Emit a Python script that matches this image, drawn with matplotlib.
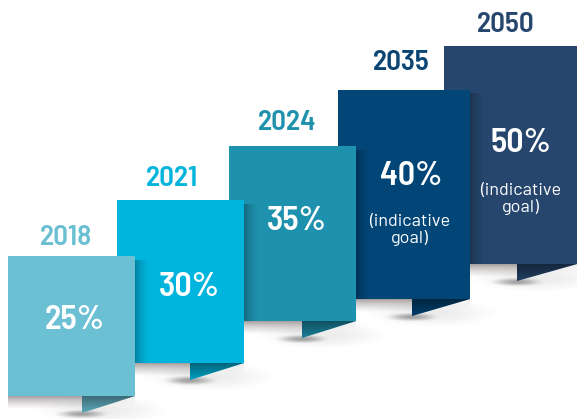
import matplotlib
matplotlib.use("Agg")
import matplotlib.pyplot as plt
from matplotlib.patches import Polygon
import numpy as np

# milestones and target shares
years = ["2018", "2021", "2024", "2035", "2050"]
shares = [25, 30, 35, 40, 50]
notes = ["", "", "", "(indicative\ngoal)", "(indicative\ngoal)"]

# look of each step
bar_colors = ["#6cc0d4", "#00b5dd", "#1e91ae", "#014677", "#26466d"]
year_colors = ["#6bbfd2", "#00b4db", "#1f91ad", "#0b4574", "#27466e"]

# step geometry, pixel units on a 577x419 canvas
bar_left = [8, 117, 229, 338, 444]
bar_right = [135, 244, 356, 470, 577]
bar_top = [256, 200, 146, 90, 46]
bar_bottom = [396, 363, 321, 299, 264]
tail_x = [82, 190, 302, 412, 517]
tail_drop = 17

year_xy = [(66, 237), (172, 178), (287, 122), (401, 63), (506, 25)]
share_xy = [(75, 320), (189, 287), (297, 221), (411, 176), (521, 143)]
note_xy = [None, None, None, (410, 230), (521, 199)]

BIG = ["Barlow Semi Condensed", "DejaVu Sans"]
SMALL = ["Barlow", "DejaVu Sans"]


def grad_rect(ax, x0, x1, y0, y1, a0, a1, axis, color=(0, 0, 0), zorder=1,
              clip=None, gamma=1.0):
    t = np.linspace(0, 1, 64) ** gamma
    a = a0 + (a1 - a0) * t
    alpha = a[None, :] if axis == "x" else a[:, None]
    img = np.zeros(alpha.shape + (4,))
    img[..., :3] = color
    img[..., 3] = alpha
    im = ax.imshow(img, extent=(x0, x1, y1, y0), origin="upper",
                   aspect="auto", interpolation="bilinear", zorder=zorder)
    if clip is not None:
        im.set_clip_path(clip)
    return im


def blob(ax, cx, cy, rx, ry, amax, color=(0.25, 0.25, 0.25), zorder=1):
    s = np.linspace(-1, 1, 80)
    X, Y = np.meshgrid(s, s)
    r2 = X ** 2 + Y ** 2
    img = np.zeros((80, 80, 4))
    img[..., :3] = color
    img[..., 3] = amax * np.clip(1 - r2, 0, 1) ** 2
    ax.imshow(img, extent=(cx - rx, cx + rx, cy + ry, cy - ry), origin="upper",
              aspect="auto", interpolation="bilinear", zorder=zorder)


fig = plt.figure(figsize=(5.77, 4.19), dpi=100)
ax = fig.add_axes([0, 0, 1, 1])

widths = [r - l for l, r in zip(bar_left, bar_right)]
heights = [b - t for t, b in zip(bar_top, bar_bottom)]
bars = ax.bar(bar_left, heights, width=widths, bottom=bar_top, align="edge",
              color=bar_colors, linewidth=0)

n = len(years)
for i in range(n):
    z = 50 - 10 * i
    bars[i].set_zorder(z)

    # folded tail under the right half of the step
    tail = Polygon([(tail_x[i], bar_bottom[i]), (bar_right[i], bar_bottom[i]),
                    (tail_x[i], bar_bottom[i] + tail_drop)],
                   closed=True, facecolor=bar_colors[i], linewidth=0, zorder=z)
    ax.add_patch(tail)
    grad_rect(ax, tail_x[i], bar_right[i], bar_bottom[i],
              bar_bottom[i] + tail_drop, 0.45, 0.12, "y", zorder=z + 0.1,
              clip=tail)

    # soft shadow below the step and under the tail tip
    blob(ax, tail_x[i] + 20, bar_bottom[i] + 14, 75, 16, 0.10, zorder=z - 2)
    blob(ax, tail_x[i], bar_bottom[i] + tail_drop + 1, 30, 5, 0.45,
         zorder=z - 1)
    grad_rect(ax, bar_left[i], tail_x[i], bar_bottom[i], bar_bottom[i] + 13,
              0.55, 0.0, "y", color=(0.32, 0.27, 0.27), zorder=z - 1,
              gamma=0.7)
    grad_rect(ax, tail_x[i], bar_right[i], bar_bottom[i],
              bar_bottom[i] + 10, 0.08, 0.0, "y", color=(0.3, 0.3, 0.3),
              zorder=z - 1.5)

    # shadow thrown onto the next step
    if i + 1 < n:
        grad_rect(ax, bar_right[i], bar_right[i] + 14, bar_top[i] + 4,
                  bar_bottom[i + 1], 0.32, 0.0, "x", zorder=z - 1,
                  clip=bars[i + 1], gamma=0.6)

    ax.text(*year_xy[i], years[i], color=year_colors[i], fontsize=21,
            fontweight=600, family=BIG, ha="center", va="center",
            zorder=200)
    ax.text(*share_xy[i], f"{shares[i]}%", color="white", fontsize=24.5,
            fontweight=600, family=BIG, ha="center", va="center",
            zorder=200)
    if note_xy[i] is not None:
        ax.text(*note_xy[i], notes[i], color="white", fontsize=13,
                family=SMALL, ha="center", va="center", linespacing=1.1,
                zorder=200)

ax.set_xlim(0, 577)
ax.set_ylim(419, 0)
ax.axis("off")
fig.savefig("out.png", dpi=100, facecolor="white")
